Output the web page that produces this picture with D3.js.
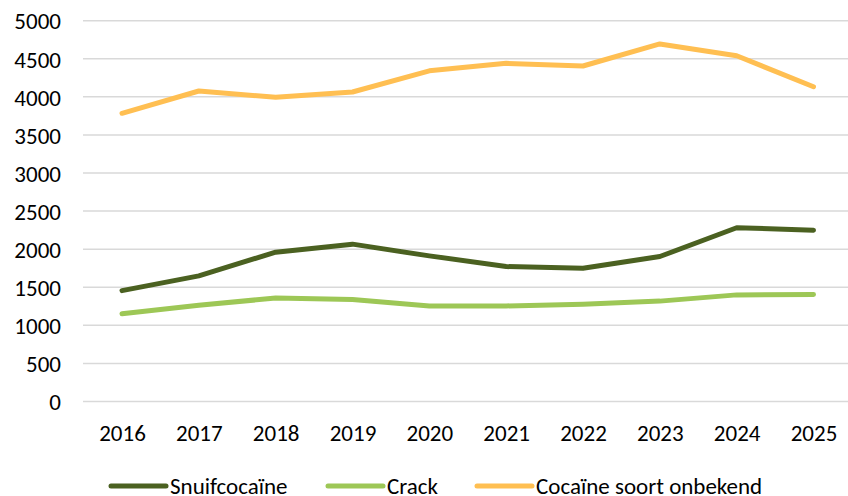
<!DOCTYPE html>
<html><head><meta charset="utf-8">
<script src="https://cdn.jsdelivr.net/npm/d3@7"></script>
<style>
html,body{margin:0;padding:0;background:#fff;}
svg{display:block;}
text{font-family:Carlito, Calibri, Lato, "Open Sans", sans-serif;fill:#000;}
</style></head>
<body>
<script>
const years = [2016,2017,2018,2019,2020,2021,2022,2023,2024,2025];
const snuif = [1456,1649,1961,2066,1912,1772,1750,1904,2281,2250];
const crack = [1153,1263,1359,1340,1255,1255,1277,1318,1400,1405];
const onbekend = [3784,4077,3994,4064,4342,4440,4405,4695,4540,4133];
const seriesNames = ["Snuifcocaïne","Crack","Cocaïne soort onbekend"];
const seriesColors = ["#4b6121","#9dc756","#ffbf52"];
const yTicks = [0,500,1000,1500,2000,2500,3000,3500,4000,4500,5000];

const W=848,H=496;
const svg=d3.select("body").append("svg").attr("width",W).attr("height",H);
const x=d3.scalePoint().domain(years).range([122,813.5]);
const y=d3.scaleLinear().domain([0,5000]).range([401.5,20.7]);

// gridlines
svg.append("g").selectAll("line").data(yTicks).join("line")
  .attr("x1",83).attr("x2",W).attr("y1",d=>y(d)).attr("y2",d=>y(d))
  .attr("stroke","#d9d9d9").attr("stroke-width",1.5);

// y axis labels
const ya=svg.append("g").attr("transform","translate(61,0)")
  .call(d3.axisLeft(y).tickValues(yTicks).tickSize(0).tickPadding(0).tickFormat(d3.format("d")));
ya.select(".domain").remove();
ya.selectAll("text").attr("font-size",23).attr("font-family",null).attr("dy","0.36em");

// x axis labels
const xa=svg.append("g").attr("transform","translate(0,433)")
  .call(d3.axisBottom(x).tickSize(0).tickPadding(0).tickFormat(d3.format("d")));
xa.select(".domain").remove();
xa.selectAll("text").attr("font-size",23).attr("font-family",null).attr("y",0).attr("dy","0.36em");

const data=[snuif,crack,onbekend];
const line=d3.line().x((d,i)=>x(years[i])).y(d=>y(d));
svg.append("g").selectAll("path").data(data).join("path")
  .attr("d",line).attr("fill","none")
  .attr("stroke",(d,i)=>seriesColors[i]).attr("stroke-width",5)
  .attr("stroke-linecap","round").attr("stroke-linejoin","round");

// legend
const legX=[111,328,477];
const lg=svg.append("g").selectAll("g").data(seriesNames).join("g")
  .attr("transform",(d,i)=>`translate(${legX[i]},486)`);
lg.append("line").attr("x1",0).attr("x2",55).attr("y1",0).attr("y2",0)
  .attr("stroke",(d,i)=>seriesColors[i]).attr("stroke-width",5).attr("stroke-linecap","round");
lg.append("text").attr("x",59).attr("y",0).attr("dy","0.36em").attr("font-size",23).text(d=>d);
</script>
</body></html>
